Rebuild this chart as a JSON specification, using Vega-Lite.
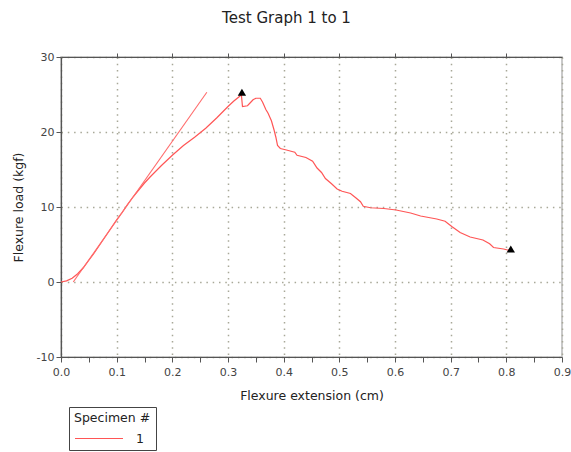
{
  "$schema": "https://vega.github.io/schema/vega-lite/v6.json",
  "autosize": {"type": "none"},
  "padding": {"left": 61, "top": 57, "right": 9, "bottom": 95},
  "width": 501,
  "height": 300,
  "background": "white",
  "title": {
    "text": "Test Graph 1 to 1",
    "frame": "group",
    "anchor": "middle",
    "dx": -25,
    "offset": 10,
    "baseline": "bottom",
    "font": "DejaVu Sans",
    "fontSize": 15,
    "fontWeight": "normal",
    "color": "#222"
  },
  "config": {
    "view": {"stroke": "#b8b8b8", "strokeWidth": 1.5},
    "font": "DejaVu Sans",
    "axis": {
      "domainColor": "#555",
      "domainWidth": 1.2,
      "tickColor": "#555",
      "tickSize": 5,
      "labelColor": "#444",
      "labelFont": "DejaVu Sans",
      "labelFontSize": 11,
      "labelFlush": false,
      "labelOverlap": false,
      "titleFont": "DejaVu Sans",
      "titleFontSize": 12.5,
      "titleFontWeight": "normal",
      "titleColor": "#222",
      "gridColor": "#a8a898",
      "gridDash": [1.5, 4.8],
      "gridWidth": 1.5
    }
  },
  "datasets": {
    "curve": [
      {"x": 0, "y": 0, "specimen": "1"},
      {"x": 0.01, "y": 0.15, "specimen": "1"},
      {"x": 0.02, "y": 0.5, "specimen": "1"},
      {"x": 0.03, "y": 1.1, "specimen": "1"},
      {"x": 0.04, "y": 1.9, "specimen": "1"},
      {"x": 0.05, "y": 2.9, "specimen": "1"},
      {"x": 0.06, "y": 3.9, "specimen": "1"},
      {"x": 0.07, "y": 5.0, "specimen": "1"},
      {"x": 0.08, "y": 6.1, "specimen": "1"},
      {"x": 0.09, "y": 7.2, "specimen": "1"},
      {"x": 0.10, "y": 8.3, "specimen": "1"},
      {"x": 0.11, "y": 9.3, "specimen": "1"},
      {"x": 0.12, "y": 10.4, "specimen": "1"},
      {"x": 0.13, "y": 11.4, "specimen": "1"},
      {"x": 0.14, "y": 12.3, "specimen": "1"},
      {"x": 0.15, "y": 13.2, "specimen": "1"},
      {"x": 0.16, "y": 14.0, "specimen": "1"},
      {"x": 0.18, "y": 15.5, "specimen": "1"},
      {"x": 0.20, "y": 16.9, "specimen": "1"},
      {"x": 0.22, "y": 18.2, "specimen": "1"},
      {"x": 0.24, "y": 19.3, "specimen": "1"},
      {"x": 0.26, "y": 20.5, "specimen": "1"},
      {"x": 0.28, "y": 21.9, "specimen": "1"},
      {"x": 0.30, "y": 23.4, "specimen": "1"},
      {"x": 0.31, "y": 24.1, "specimen": "1"},
      {"x": 0.32, "y": 24.7, "specimen": "1"},
      {"x": 0.324, "y": 25.0, "specimen": "1"},
      {"x": 0.326, "y": 23.4, "specimen": "1"},
      {"x": 0.335, "y": 23.5, "specimen": "1"},
      {"x": 0.34, "y": 23.9, "specimen": "1"},
      {"x": 0.345, "y": 24.3, "specimen": "1"},
      {"x": 0.35, "y": 24.5, "specimen": "1"},
      {"x": 0.358, "y": 24.5, "specimen": "1"},
      {"x": 0.362, "y": 24.0, "specimen": "1"},
      {"x": 0.368, "y": 23.0, "specimen": "1"},
      {"x": 0.372, "y": 22.5, "specimen": "1"},
      {"x": 0.378, "y": 21.5, "specimen": "1"},
      {"x": 0.383, "y": 20.2, "specimen": "1"},
      {"x": 0.386, "y": 19.3, "specimen": "1"},
      {"x": 0.389, "y": 18.2, "specimen": "1"},
      {"x": 0.394, "y": 17.8, "specimen": "1"},
      {"x": 0.405, "y": 17.6, "specimen": "1"},
      {"x": 0.415, "y": 17.4, "specimen": "1"},
      {"x": 0.42, "y": 17.3, "specimen": "1"},
      {"x": 0.424, "y": 16.9, "specimen": "1"},
      {"x": 0.44, "y": 16.6, "specimen": "1"},
      {"x": 0.452, "y": 16.1, "specimen": "1"},
      {"x": 0.46, "y": 15.2, "specimen": "1"},
      {"x": 0.468, "y": 14.6, "specimen": "1"},
      {"x": 0.475, "y": 13.8, "specimen": "1"},
      {"x": 0.486, "y": 13.1, "specimen": "1"},
      {"x": 0.496, "y": 12.4, "specimen": "1"},
      {"x": 0.505, "y": 12.1, "specimen": "1"},
      {"x": 0.52, "y": 11.8, "specimen": "1"},
      {"x": 0.53, "y": 11.2, "specimen": "1"},
      {"x": 0.538, "y": 10.7, "specimen": "1"},
      {"x": 0.543, "y": 10.1, "specimen": "1"},
      {"x": 0.556, "y": 9.9, "specimen": "1"},
      {"x": 0.58, "y": 9.8, "specimen": "1"},
      {"x": 0.602, "y": 9.6, "specimen": "1"},
      {"x": 0.615, "y": 9.4, "specimen": "1"},
      {"x": 0.628, "y": 9.2, "specimen": "1"},
      {"x": 0.646, "y": 8.8, "specimen": "1"},
      {"x": 0.675, "y": 8.4, "specimen": "1"},
      {"x": 0.69, "y": 8.1, "specimen": "1"},
      {"x": 0.702, "y": 7.4, "specimen": "1"},
      {"x": 0.717, "y": 6.6, "specimen": "1"},
      {"x": 0.735, "y": 6.0, "specimen": "1"},
      {"x": 0.758, "y": 5.6, "specimen": "1"},
      {"x": 0.77, "y": 5.1, "specimen": "1"},
      {"x": 0.777, "y": 4.6, "specimen": "1"},
      {"x": 0.795, "y": 4.4, "specimen": "1"},
      {"x": 0.806, "y": 4.2, "specimen": "1"}
    ],
    "tangent": [
      {"x": 0.022, "y": 0},
      {"x": 0.262, "y": 25.3}
    ],
    "markers": [
      {"x": 0.325, "y": 25.3},
      {"x": 0.808, "y": 4.4}
    ]
  },
  "layer": [
    {
      "data": {"name": "curve"},
      "mark": {"type": "line", "strokeWidth": 1.2, "interpolate": "linear"},
      "encoding": {
        "x": {
          "field": "x", "type": "quantitative",
          "scale": {"domain": [0, 0.9], "nice": false, "zero": false},
          "axis": {
            "title": "Flexure extension (cm)",
            "values": [0, 0.05, 0.1, 0.15, 0.2, 0.25, 0.3, 0.35, 0.4, 0.45, 0.5, 0.55, 0.6, 0.65, 0.7, 0.75, 0.8, 0.85, 0.9],
            "labelExpr": "abs(datum.value*10 - round(datum.value*10)) < 0.01 ? format(datum.value, '.1f') : ''",
            "gridOpacity": {"condition": {"test": "abs(datum.value*10 - round(datum.value*10)) < 0.01", "value": 1}, "value": 0},
            "labelPadding": 4,
            "titleX": 250.5,
            "titleY": 38,
            "titleBaseline": "middle",
            "titleAlign": "center"
          }
        },
        "y": {
          "field": "y", "type": "quantitative",
          "scale": {"domain": [-10, 30], "nice": false, "zero": false},
          "axis": {
            "title": "Flexure load (kgf)",
            "values": [-10, -5, 0, 5, 10, 15, 20, 25, 30],
            "labelExpr": "datum.value % 10 == 0 ? '' + datum.value : ''",
            "gridOpacity": {"condition": {"test": "datum.value % 10 == 0", "value": 1}, "value": 0},
            "labelPadding": 2,
            "titleX": -43,
            "titleY": 150,
            "titleBaseline": "middle",
            "titleAlign": "center",
            "titleAngle": 270
          }
        },
        "color": {
          "field": "specimen", "type": "nominal",
          "scale": {"domain": ["1"], "range": ["#ff5555"]},
          "legend": {
            "title": "Specimen #",
            "orient": "none",
            "legendX": 8,
            "legendY": 350,
            "strokeColor": "#444",
            "fillColor": "white",
            "padding": 5,
            "titleFont": "DejaVu Sans",
            "titleFontSize": 12.5,
            "titleFontWeight": "normal",
            "titleColor": "#222",
            "titlePadding": 7,
            "labelFont": "DejaVu Sans",
            "labelFontSize": 12.5,
            "labelColor": "#222",
            "labelOffset": 48,
            "symbolType": "M-1,0H7",
            "symbolSize": 144,
            "symbolStrokeWidth": 1.2
          }
        }
      }
    },
    {
      "data": {"name": "tangent"},
      "mark": {"type": "line", "strokeWidth": 1.1, "color": "#ff6b6b"},
      "encoding": {
        "x": {
          "field": "x", "type": "quantitative",
          "axis": {
            "orient": "top",
            "title": null,
            "labels": false,
            "grid": false,
            "values": [0.1, 0.2, 0.3, 0.4, 0.5, 0.6, 0.7, 0.8],
            "tickSize": 4
          }
        },
        "y": {"field": "y", "type": "quantitative"}
      }
    },
    {
      "data": {"name": "markers"},
      "mark": {"type": "point", "shape": "triangle-up", "filled": true, "color": "black", "size": 70, "opacity": 1},
      "encoding": {
        "x": {"field": "x", "type": "quantitative", "axis": null},
        "y": {"field": "y", "type": "quantitative"}
      }
    }
  ],
  "resolve": {"axis": {"x": "independent"}}
}
